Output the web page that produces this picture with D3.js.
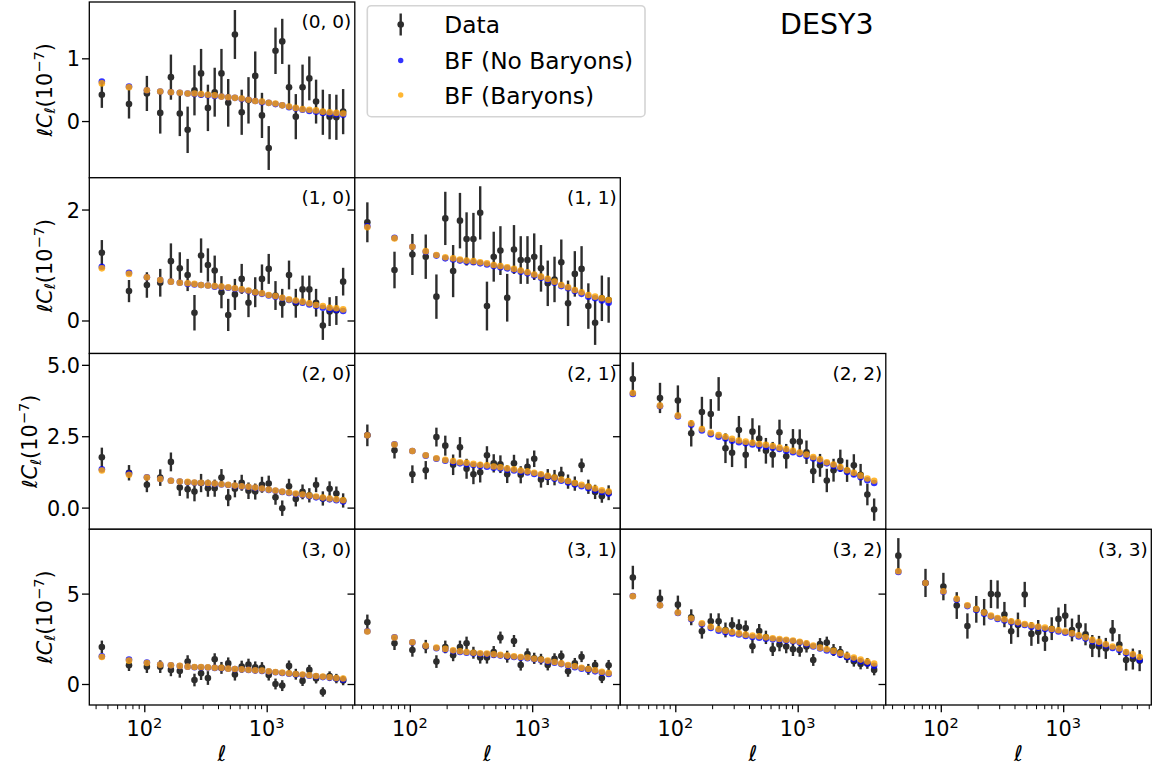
<!DOCTYPE html>
<html>
<head>
<meta charset="utf-8">
<script src="https://cdn.jsdelivr.net/npm/d3@7"></script>
<style>
  body { margin: 0; background: #fff; }
  text { font-family: "DejaVu Sans", sans-serif; fill: #000; }
</style>
</head>
<body>
<svg id="chart" width="1156" height="771"></svg>
<script>
// Multipole bin centres (shared by every tomographic pair)
const ell = [45, 75, 105, 135, 165, 195, 226, 257, 291, 331, 376, 427, 485, 550, 625,
             710, 806, 915, 1039, 1180, 1340, 1522, 1729, 1963, 2230, 2532, 2876, 3266, 3709, 4213];

// ℓC_ℓ in units of 1e-7: measured band powers, 1σ errors, best fits without / with baryons
const data00 = [0.42,0.27,0.44,0.13,0.70,0.12,-0.14,0.49,0.76,0.21,0.46,0.76,0.29,1.38,0.14,0.33,0.72,0.09,-0.43,1.12,1.27,0.54,0.07,0.54,0.68,0.31,0.14,0.07,0.06,0.15];
const err00  = [0.21,0.23,0.28,0.33,0.36,0.36,0.37,0.40,0.39,0.37,0.39,0.39,0.38,0.39,0.36,0.37,0.39,0.36,0.35,0.37,0.36,0.36,0.36,0.36,0.35,0.35,0.36,0.36,0.36,0.36];
const noBar00 = [0.63,0.55,0.49,0.47,0.46,0.45,0.44,0.43,0.42,0.41,0.40,0.39,0.38,0.37,0.35,0.34,0.32,0.30,0.29,0.27,0.25,0.22,0.20,0.18,0.16,0.15,0.13,0.12,0.11,0.10];
const bar00   = [0.60,0.54,0.49,0.47,0.46,0.45,0.44,0.44,0.43,0.42,0.41,0.39,0.38,0.37,0.36,0.34,0.32,0.31,0.29,0.28,0.25,0.23,0.21,0.19,0.18,0.17,0.15,0.14,0.13,0.12];

const data10 = [1.22,0.53,0.64,0.68,1.07,0.94,0.82,0.14,1.17,1.00,0.90,0.51,0.10,0.47,0.75,0.32,0.51,0.75,0.93,0.45,0.31,0.82,0.31,0.56,0.56,0.32,-0.09,0.16,0.18,0.70];
const err10  = [0.23,0.20,0.23,0.25,0.32,0.29,0.29,0.32,0.31,0.30,0.27,0.29,0.29,0.28,0.27,0.26,0.27,0.26,0.27,0.26,0.26,0.26,0.26,0.25,0.25,0.25,0.26,0.26,0.26,0.25];
const noBar10 = [0.97,0.86,0.78,0.73,0.70,0.68,0.66,0.65,0.64,0.63,0.61,0.60,0.59,0.57,0.55,0.53,0.50,0.48,0.45,0.43,0.40,0.37,0.34,0.32,0.29,0.26,0.23,0.20,0.19,0.17];
const bar10   = [0.94,0.84,0.78,0.73,0.70,0.68,0.67,0.66,0.64,0.63,0.62,0.61,0.60,0.58,0.56,0.54,0.51,0.49,0.46,0.44,0.41,0.38,0.36,0.34,0.31,0.28,0.26,0.23,0.22,0.20];

const data11 = [1.77,0.91,1.19,1.15,0.43,1.84,0.89,1.80,1.47,1.47,1.94,0.26,1.15,1.26,0.41,1.28,1.09,1.09,1.15,0.94,0.67,0.74,1.05,0.31,0.84,0.93,0.26,-0.04,0.40,0.37];
const err11  = [0.36,0.33,0.37,0.40,0.40,0.48,0.47,0.50,0.48,0.47,0.48,0.44,0.45,0.44,0.43,0.44,0.43,0.43,0.42,0.42,0.41,0.41,0.41,0.41,0.41,0.41,0.41,0.40,0.41,0.41];
const noBar11 = [1.70,1.49,1.33,1.24,1.17,1.12,1.10,1.08,1.06,1.05,1.03,1.01,0.98,0.96,0.94,0.91,0.88,0.85,0.81,0.77,0.73,0.68,0.62,0.58,0.53,0.48,0.43,0.40,0.36,0.32];
const bar11   = [1.68,1.48,1.33,1.25,1.18,1.14,1.12,1.10,1.08,1.07,1.05,1.03,1.00,0.98,0.96,0.93,0.90,0.87,0.83,0.79,0.75,0.70,0.64,0.60,0.55,0.51,0.46,0.43,0.40,0.37];

const data20 = [1.76,1.22,0.80,1.05,1.60,0.70,0.64,0.56,0.86,0.68,0.68,1.05,0.35,0.66,0.87,0.59,0.56,0.80,0.84,0.36,-0.02,0.75,0.30,0.55,0.43,0.80,0.32,0.66,0.49,0.25];
const err20  = [0.34,0.27,0.26,0.29,0.33,0.29,0.32,0.34,0.32,0.30,0.30,0.30,0.30,0.30,0.28,0.29,0.28,0.28,0.28,0.26,0.27,0.26,0.26,0.26,0.25,0.26,0.25,0.26,0.25,0.25];
const noBar20 = [1.34,1.19,1.06,1.00,0.94,0.91,0.89,0.87,0.86,0.85,0.83,0.81,0.79,0.76,0.74,0.72,0.69,0.66,0.62,0.59,0.55,0.51,0.47,0.44,0.40,0.36,0.32,0.29,0.26,0.21];
const bar20   = [1.30,1.15,1.05,1.00,0.94,0.91,0.90,0.88,0.87,0.86,0.84,0.82,0.80,0.77,0.75,0.73,0.70,0.67,0.63,0.60,0.56,0.53,0.49,0.46,0.42,0.39,0.35,0.32,0.29,0.26];

const data21 = [2.53,2.01,1.17,1.31,2.47,2.17,1.50,2.11,1.36,1.17,1.24,1.83,1.55,1.52,1.17,1.55,1.15,1.43,1.71,0.98,1.07,1.05,1.17,0.91,0.84,1.48,0.73,0.55,0.40,0.52];
const err21  = [0.38,0.29,0.31,0.32,0.33,0.35,0.36,0.36,0.35,0.35,0.36,0.32,0.32,0.31,0.31,0.30,0.30,0.29,0.29,0.28,0.28,0.27,0.26,0.25,0.25,0.24,0.25,0.25,0.23,0.26];
const noBar21 = [2.53,2.22,1.98,1.82,1.71,1.64,1.59,1.55,1.52,1.49,1.46,1.43,1.40,1.37,1.33,1.30,1.26,1.23,1.18,1.13,1.07,1.01,0.94,0.88,0.81,0.75,0.68,0.61,0.55,0.49];
const bar21   = [2.53,2.21,1.98,1.83,1.73,1.67,1.63,1.59,1.57,1.53,1.50,1.48,1.44,1.41,1.37,1.34,1.30,1.27,1.22,1.17,1.11,1.05,0.98,0.93,0.86,0.80,0.74,0.67,0.61,0.56];

const data22 = [4.50,3.84,3.75,2.60,3.35,3.28,3.98,2.08,1.92,2.72,1.85,2.66,2.42,1.99,1.85,2.64,1.80,2.32,2.31,1.94,1.27,1.48,0.95,1.31,1.64,1.29,1.48,1.15,0.46,-0.07];
const err22  = [0.59,0.53,0.53,0.46,0.53,0.52,0.59,0.52,0.50,0.49,0.47,0.47,0.46,0.45,0.45,0.44,0.43,0.43,0.43,0.41,0.41,0.40,0.41,0.40,0.39,0.39,0.39,0.38,0.38,0.39];
const noBar22 = [3.98,3.55,3.19,2.90,2.70,2.57,2.48,2.42,2.34,2.29,2.25,2.21,2.17,2.13,2.10,2.05,1.99,1.94,1.88,1.81,1.72,1.63,1.55,1.46,1.36,1.25,1.16,1.06,0.96,0.86];
const bar22   = [4.01,3.57,3.22,2.95,2.75,2.62,2.54,2.48,2.41,2.35,2.31,2.27,2.23,2.20,2.16,2.10,2.05,1.99,1.93,1.86,1.77,1.69,1.59,1.51,1.42,1.31,1.22,1.12,1.02,0.94];

const data30 = [2.05,1.03,0.96,0.96,0.78,0.72,1.24,0.22,0.59,0.33,1.37,0.89,1.14,0.52,0.96,1.07,0.92,0.89,0.50,0.00,-0.09,1.00,0.54,0.17,0.78,0.31,-0.44,0.44,0.30,0.19];
const err30  = [0.35,0.31,0.35,0.35,0.35,0.37,0.35,0.35,0.37,0.38,0.33,0.33,0.33,0.33,0.33,0.33,0.33,0.32,0.31,0.30,0.30,0.30,0.30,0.28,0.28,0.28,0.26,0.26,0.26,0.26];
const noBar30 = [1.53,1.35,1.19,1.08,1.03,0.99,0.95,0.93,0.92,0.91,0.89,0.87,0.84,0.82,0.80,0.78,0.75,0.72,0.69,0.65,0.61,0.57,0.53,0.50,0.46,0.42,0.38,0.34,0.30,0.24];
const bar30   = [1.49,1.29,1.16,1.07,1.03,1.00,0.96,0.94,0.94,0.92,0.90,0.89,0.85,0.83,0.81,0.79,0.76,0.74,0.70,0.66,0.63,0.59,0.55,0.52,0.48,0.44,0.41,0.37,0.33,0.30];

const data31 = [3.41,2.25,1.88,2.07,1.24,2.05,1.59,2.05,2.25,1.73,1.46,1.46,1.77,2.57,1.51,2.38,1.05,1.66,1.42,1.37,1.05,1.40,1.55,0.70,1.14,1.51,0.81,1.05,0.33,1.03];
const err31  = [0.43,0.37,0.37,0.37,0.35,0.35,0.33,0.35,0.37,0.33,0.33,0.33,0.33,0.33,0.33,0.33,0.31,0.31,0.31,0.30,0.30,0.30,0.30,0.30,0.30,0.30,0.30,0.28,0.28,0.30];
const noBar31 = [2.92,2.58,2.30,2.10,1.98,1.90,1.82,1.77,1.73,1.69,1.66,1.64,1.60,1.57,1.53,1.49,1.45,1.42,1.37,1.31,1.25,1.18,1.10,1.01,0.93,0.85,0.78,0.70,0.62,0.55];
const bar31   = [2.90,2.57,2.31,2.12,2.01,1.94,1.86,1.81,1.77,1.73,1.70,1.68,1.64,1.61,1.57,1.53,1.49,1.46,1.40,1.35,1.29,1.22,1.14,1.05,0.98,0.90,0.83,0.76,0.68,0.61];

const data32 = [5.89,4.72,4.39,3.69,2.92,3.47,3.47,2.99,3.28,3.17,3.10,2.09,2.93,2.58,1.92,2.18,2.07,1.92,1.88,2.07,1.33,2.21,2.29,1.88,1.77,1.48,1.26,1.11,1.14,0.78];
const err32  = [0.65,0.50,0.50,0.44,0.41,0.44,0.44,0.41,0.41,0.41,0.41,0.39,0.39,0.37,0.37,0.37,0.37,0.37,0.37,0.33,0.33,0.33,0.33,0.33,0.33,0.31,0.30,0.30,0.30,0.30];
const noBar32 = [4.87,4.36,3.93,3.58,3.30,3.10,2.95,2.86,2.80,2.74,2.66,2.60,2.56,2.50,2.47,2.43,2.40,2.36,2.29,2.20,2.07,1.96,1.85,1.75,1.62,1.49,1.37,1.26,1.14,1.01];
const bar32   = [4.85,4.35,3.95,3.62,3.36,3.17,3.03,2.95,2.88,2.80,2.73,2.68,2.64,2.58,2.53,2.49,2.45,2.40,2.34,2.25,2.12,2.01,1.92,1.83,1.70,1.57,1.46,1.35,1.24,1.13];

const data33 = [7.10,5.59,5.39,4.34,3.21,4.13,3.97,4.98,4.95,3.84,2.92,3.27,4.95,2.77,2.88,2.49,3.06,3.60,3.78,2.99,3.23,2.75,2.10,2.07,1.97,2.95,2.18,1.33,1.38,1.29];
const err33  = [0.97,0.78,0.76,0.74,0.70,0.74,0.73,0.78,0.78,0.70,0.70,0.68,0.70,0.66,0.66,0.66,0.63,0.63,0.65,0.63,0.60,0.61,0.61,0.59,0.58,0.59,0.58,0.59,0.58,0.58];
const noBar33 = [6.20,5.58,5.10,4.66,4.31,4.10,3.89,3.73,3.60,3.51,3.41,3.34,3.26,3.17,3.12,3.04,2.99,2.90,2.84,2.75,2.63,2.51,2.36,2.25,2.13,1.99,1.88,1.70,1.57,1.33];
const bar33   = [6.24,5.59,5.13,4.71,4.35,4.15,3.95,3.78,3.65,3.58,3.47,3.41,3.32,3.25,3.17,3.12,3.04,2.97,2.90,2.80,2.69,2.58,2.44,2.33,2.20,2.07,1.96,1.77,1.64,1.49];

// Per-row y ranges and ticks (rows share the y axis)
const rowDomains = [[-0.904, 1.898], [-0.595, 2.573], [-0.758, 5.397], [-1.162, 8.56]];
const rowTicks = [[0, 1], [0, 2], [0, 2.5, 5], [0, 5]];
const rowTickLabels = [["0", "1"], ["0", "2"], ["0.0", "2.5", "5.0"], ["0", "5"]];
const xMajorTicks = [100, 1000];
const xMajorExp = ["2", "3"];
const xMinorTicks = [40, 50, 60, 70, 80, 90, 200, 300, 400, 500, 600, 700, 800, 900, 2000, 3000, 4000, 5000];
const legendLabels = ["Data", "BF (No Baryons)", "BF (Baryons)"];
const title = "DESY3";

const panels = [
  { i: 0, j: 0, data: data00, err: err00, noBar: noBar00, bar: bar00 },
  { i: 1, j: 0, data: data10, err: err10, noBar: noBar10, bar: bar10 },
  { i: 1, j: 1, data: data11, err: err11, noBar: noBar11, bar: bar11 },
  { i: 2, j: 0, data: data20, err: err20, noBar: noBar20, bar: bar20 },
  { i: 2, j: 1, data: data21, err: err21, noBar: noBar21, bar: bar21 },
  { i: 2, j: 2, data: data22, err: err22, noBar: noBar22, bar: bar22 },
  { i: 3, j: 0, data: data30, err: err30, noBar: noBar30, bar: bar30 },
  { i: 3, j: 1, data: data31, err: err31, noBar: noBar31, bar: bar31 },
  { i: 3, j: 2, data: data32, err: err32, noBar: noBar32, bar: bar32 },
  { i: 3, j: 3, data: data33, err: err33, noBar: noBar33, bar: bar33 }
];

// Grid geometry
const GRID_LEFT = 89.3, GRID_TOP = 2, PW = 265.5, PH = 175.75;
const MAJOR = 7.3, MINOR = 4.2, LW = 1.3;
const FS_TICK = 20.8;
const R = 3.3;
const BLUE = "#0000ff", ORANGE = "#ffa500";

const svg = d3.select("#chart");
const x = d3.scaleLog().domain([35.54, 5246]).range([0, PW]);

panels.forEach(p => {
  const gx = GRID_LEFT + p.j * PW, gy = GRID_TOP + p.i * PH;
  const y = d3.scaleLinear().domain(rowDomains[p.i]).range([PH, 0]);
  const g = svg.append("g").attr("transform", `translate(${gx},${gy})`);

  g.append("rect").attr("width", PW).attr("height", PH).attr("fill", "#fff");

  const clipId = `clip-${p.i}-${p.j}`;
  g.append("clipPath").attr("id", clipId)
    .append("rect").attr("width", PW).attr("height", PH);
  const plot = g.append("g").attr("clip-path", `url(#${clipId})`);

  // measured points with error bars
  const pts = ell.map((l, k) => ({ l, v: p.data[k], e: p.err[k] }));
  const eb = plot.append("g");
  pts.forEach(d => {
    const gg = eb.append("g").attr("opacity", 0.82);
    gg.append("line")
      .attr("x1", x(d.l)).attr("x2", x(d.l))
      .attr("y1", y(d.v - d.e)).attr("y2", y(d.v + d.e))
      .attr("stroke", "#000").attr("stroke-width", 2.4);
    gg.append("circle").attr("cx", x(d.l)).attr("cy", y(d.v)).attr("r", R).attr("fill", "#000");
  });

  // best-fit predictions
  plot.append("g").selectAll("circle").data(p.noBar).join("circle")
    .attr("cx", (d, k) => x(ell[k])).attr("cy", d => y(d)).attr("r", R)
    .attr("fill", BLUE).attr("fill-opacity", 0.8);
  plot.append("g").selectAll("circle").data(p.bar).join("circle")
    .attr("cx", (d, k) => x(ell[k])).attr("cy", d => y(d)).attr("r", R)
    .attr("fill", ORANGE).attr("fill-opacity", 0.8);

  // y axis ticks (outward); labels only on the first column
  const yAxis = d3.axisLeft(y).tickValues(rowTicks[p.i]).tickSize(MAJOR).tickPadding(3)
    .tickFormat((d, k) => p.j === 0 ? rowTickLabels[p.i][k] : "");
  const ya = g.append("g").call(yAxis);
  ya.select(".domain").remove();
  ya.selectAll("line").attr("stroke", "#000").attr("stroke-width", LW);
  ya.selectAll("text").attr("font-size", FS_TICK).attr("font-family", "DejaVu Sans")
    .attr("x", -MAJOR - 2.0).attr("dy", "0.36em");

  // x axis on the bottom row
  if (p.i === 3) {
    const xMin = g.append("g").attr("transform", `translate(0,${PH})`)
      .call(d3.axisBottom(x).tickValues(xMinorTicks).tickSize(MINOR).tickFormat(""));
    xMin.select(".domain").remove();
    xMin.selectAll("line").attr("stroke", "#000").attr("stroke-width", 1.0);
    const xMaj = g.append("g").attr("transform", `translate(0,${PH})`)
      .call(d3.axisBottom(x).tickValues(xMajorTicks).tickSize(MAJOR).tickFormat(""));
    xMaj.select(".domain").remove();
    xMaj.selectAll("line").attr("stroke", "#000").attr("stroke-width", LW);
    xMajorTicks.forEach((t, k) => {
      const tx = g.append("text").attr("x", x(t)).attr("y", PH + 31)
        .attr("text-anchor", "middle").attr("font-size", FS_TICK);
      tx.append("tspan").text("10");
      tx.append("tspan").attr("dy", -8).attr("font-size", 14.6).text(xMajorExp[k]);
    });
    g.append("text").attr("x", PW / 2).attr("y", PH + 55.5)
      .attr("text-anchor", "middle").attr("font-size", 21.5)
      .attr("font-style", "italic").text("ℓ");
  }

  // spines
  g.append("rect").attr("width", PW).attr("height", PH)
    .attr("fill", "none").attr("stroke", "#000").attr("stroke-width", LW);

  // pair label
  g.append("text").attr("x", PW - 3.5).attr("y", 26.3)
    .attr("text-anchor", "end").attr("font-size", 18.5)
    .text(`(${p.i}, ${p.j})`);
});

// y axis labels, one per row
const yLabelX = [51.5, 51.5, 37, 51.5];
[0, 1, 2, 3].forEach(r => {
  const cy = GRID_TOP + r * PH + PH / 2;
  const t = svg.append("text")
    .attr("transform", `translate(${yLabelX[r]},${cy}) rotate(-90)`)
    .attr("text-anchor", "middle").attr("font-size", FS_TICK);
  t.append("tspan").attr("font-style", "italic").text("ℓC");
  t.append("tspan").attr("font-style", "italic").attr("font-size", 14.6).attr("dy", 3.5).text("ℓ");
  t.append("tspan").attr("dy", -3.5).text("(10");
  t.append("tspan").attr("font-size", 14.6).attr("dy", -8).text("−7");
  t.append("tspan").attr("dy", 8).text(")");
});

// legend
const lg = svg.append("g");
lg.append("rect").attr("x", 367.3).attr("y", 5.7).attr("width", 277.7).attr("height", 111)
  .attr("rx", 4).attr("fill", "#fff").attr("fill-opacity", 0.8)
  .attr("stroke", "#d4d4d4").attr("stroke-width", 1.6);
const legendY = [24.5, 60.5, 95];
const lgData = lg.append("g").attr("opacity", 0.82);
lgData.append("line").attr("x1", 400.7).attr("x2", 400.7).attr("y1", 13.5).attr("y2", 35.5)
  .attr("stroke", "#000").attr("stroke-width", 2.4);
lgData.append("circle").attr("cx", 400.7).attr("cy", legendY[0]).attr("r", R).attr("fill", "#000");
lg.append("circle").attr("cx", 400.7).attr("cy", legendY[1]).attr("r", 2.7)
  .attr("fill", BLUE).attr("fill-opacity", 0.8);
lg.append("circle").attr("cx", 400.7).attr("cy", legendY[2]).attr("r", 2.7)
  .attr("fill", ORANGE).attr("fill-opacity", 0.8);
legendLabels.forEach((s, k) => {
  lg.append("text").attr("x", 444.3).attr("y", legendY[k] + 8.6)
    .attr("font-size", 23.3).text(s);
});

// figure title
svg.append("text").attr("x", 780).attr("y", 34).attr("font-size", 28.5).text(title);
</script>
</body>
</html>
